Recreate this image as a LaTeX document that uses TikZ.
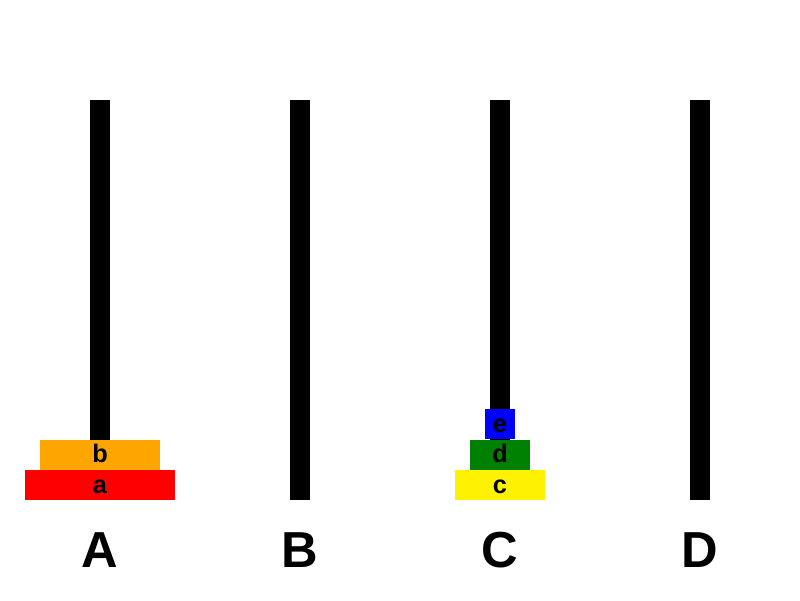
\documentclass[tikz,border=0pt]{standalone}
\usepackage{fontspec}
\setmainfont{Liberation Sans}
\usetikzlibrary{positioning}
\definecolor{diskorange}{RGB}{255,165,0}
\definecolor{diskgreen}{RGB}{0,128,0}
\begin{document}
\begin{tikzpicture}[x=0.025cm, y=-0.025cm, node distance=0pt]
\tikzstyle{peg}=[fill=black, draw=none, minimum width=0.5cm, minimum height=10cm, inner sep=0pt]
\tikzstyle{disk}=[draw=none, minimum height=0.75cm, inner sep=0pt, text height=0.4cm, text depth=0pt, font=\bfseries\fontsize{18}{18}\selectfont]
\tikzstyle{lbl}=[inner sep=0pt, font=\bfseries\fontsize{36}{36}\selectfont]
\useasboundingbox (0,0) rectangle (800,600);
% pegs and their names
\foreach \n/\x in {A/100,B/300,C/500,D/700} {
  \node[peg, anchor=north] (peg\n) at (\x,100) {};
  \node[lbl] (lbl\n) at (\x,550) {\n};
}
% disks on peg A
\node[disk, fill=red, minimum width=3.75cm, above=of pegA.south] (a) {a};
\node[disk, fill=diskorange, minimum width=3cm, above=of a] (b) {b};
% disks on peg C
\node[disk, fill=yellow, minimum width=2.25cm, above=of pegC.south] (c) {c};
\node[disk, fill=diskgreen, minimum width=1.5cm, above=of c] (d) {d};
\node[disk, fill=blue, minimum width=0.75cm, above=of d] (e) {e};
\end{tikzpicture}
\end{document}
